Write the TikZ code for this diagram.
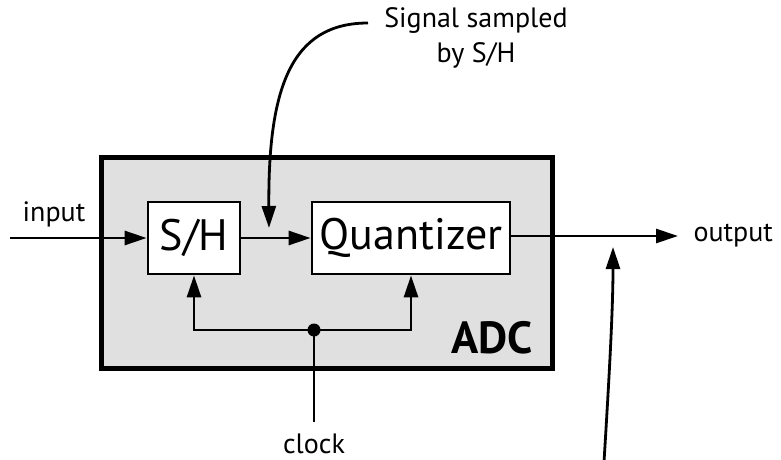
\documentclass[tikz,border=0pt]{standalone}
\usepackage{fontspec}
\setmainfont{PT Sans}
\usetikzlibrary{arrows.meta, positioning, calc}
\definecolor{adcgray}{HTML}{E0E0E0}

\begin{document}
\begin{tikzpicture}[x=1pt, y=-1pt,
    every node/.style={font=\fontsize{28}{34}\selectfont},
    blk/.style={draw, line width=2.8pt, fill=white, inner sep=0pt, font=\fontsize{44}{48}\selectfont},
    sig/.style={line width=2.8pt, -{Triangle[length=22pt, width=14pt]}}]
    \useasboundingbox (0,0) rectangle (781,460);
    \node[draw, line width=5pt, fill=adcgray, minimum width=451pt, minimum height=211pt] (adc) at (326.5,262.5) {};
    \node[blk, minimum width=92pt, minimum height=72pt] (sh) at (194,238) {S/H};
    \node[blk, minimum width=198pt, minimum height=72pt] (quant) at (411,238) {Quantizer};
    \node[font=\fontsize{45}{48}\selectfont\bfseries] (adclbl) at (492,338) {ADC};
    \coordinate (in) at (10,238);
    \coordinate (out) at (678,236);
    \coordinate (clk) at (314,422);
    \coordinate (jn) at (314,330);
    \coordinate (sigstart) at (368,23);
    \coordinate (sigtip) at (269,228);
    \coordinate (btm) at (604,462);
    \coordinate (btmtip) at (613,247);
    \node (inlbl) at (54,214) {input};
    \node[right=12pt of out] (outlbl) {output};
    \node (clklbl) at (314,444) {clock};
    \node[align=center, font=\fontsize{28}{35}\selectfont] (siglbl) at (476,38) {Signal sampled\\by S/H};
    \draw[sig] (in) -- (sh);
    \draw[sig] (sh) -- (quant);
    \draw[sig] (quant.east |- out) -- (out);
    \draw[line width=2.8pt] (clk) -- (jn);
    \draw[sig] (jn) -| (sh.south);
    \draw[sig] (jn) -| (quant.south);
    \fill (jn) circle (6.5pt);
    \draw[sig] (sigstart) .. controls (290,23) and (268,90) .. (sigtip);
    \draw[sig] (btm) .. controls (609,380) and (613,310) .. (btmtip);
\end{tikzpicture}
\end{document}
